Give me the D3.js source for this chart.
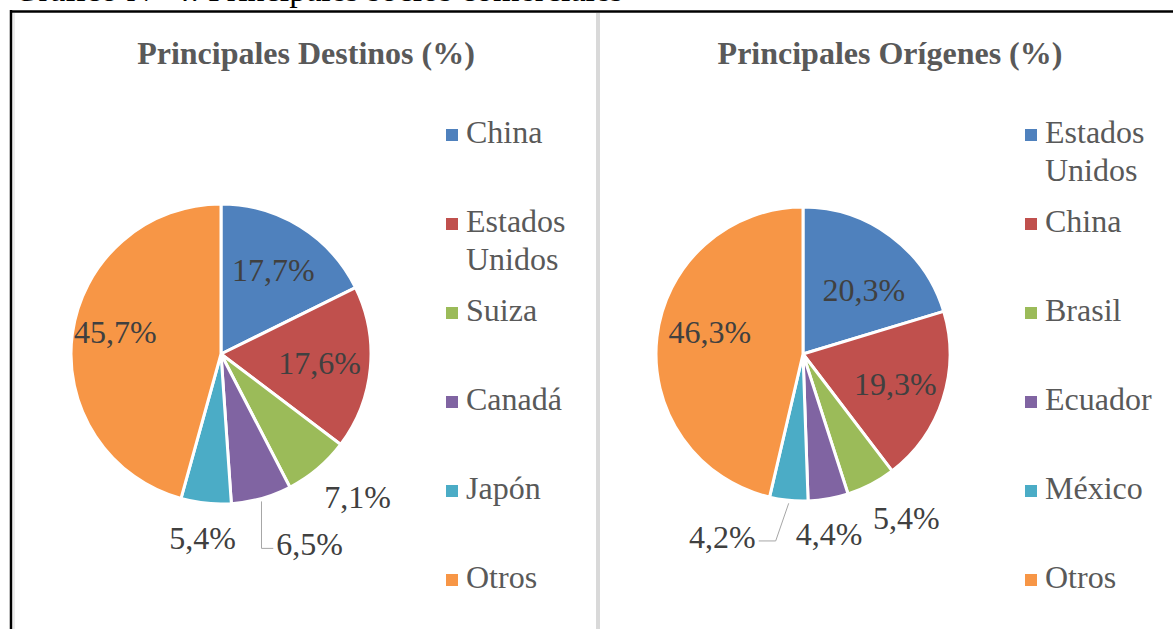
<!DOCTYPE html>
<html>
<head>
<meta charset="utf-8">
<script src="https://cdn.jsdelivr.net/npm/d3@7"></script>
<style>
  body { margin: 0; background: #fff; }
  text { font-family: "Liberation Serif", "Times New Roman", serif; }
</style>
</head>
<body>
<div id="chart"></div>
<script>
// data
var destinos = ["China", "Estados Unidos", "Suiza", "Canadá", "Japón", "Otros"];
var destinosValues = [17.7, 17.6, 7.1, 6.5, 5.4, 45.7];

var origenes = ["Estados Unidos", "China", "Brasil", "Ecuador", "México", "Otros"];
var origenesValues = [20.3, 19.3, 5.4, 4.4, 4.2, 46.3];

var sliceColors = ["#4f81bd", "#c0504d", "#9bbb59", "#8064a2", "#4bacc6", "#f79646"];

var svgWidth = 1173;
var svgHeight = 629;

var svg = d3.select("#chart")
    .append("svg")
    .attr("width", svgWidth)
    .attr("height", svgHeight);

// caption above the frame, cut off by the page edge
svg.append("text")
    .attr("x", 14)
    .attr("y", 1)
    .attr("font-size", 34)
    .attr("fill", "#000")
    .text("Gráfico N° 4: Principales socios comerciales");

// frame
svg.append("rect")
    .attr("x", 0).attr("y", 12).attr("width", svgWidth).attr("height", svgHeight)
    .attr("fill", "#fff");
svg.append("line")
    .attr("x1", 10).attr("x2", svgWidth).attr("y1", 11.5).attr("y2", 11.5)
    .attr("stroke", "#000").attr("stroke-width", 2.5);
svg.append("line")
    .attr("x1", 11).attr("x2", 11).attr("y1", 10).attr("y2", svgHeight)
    .attr("stroke", "#000").attr("stroke-width", 2.5);
svg.append("line")
    .attr("x1", 14).attr("x2", 14).attr("y1", 13).attr("y2", svgHeight)
    .attr("stroke", "#d9d9d9").attr("stroke-width", 1);
// divider between the two charts
svg.append("rect")
    .attr("x", 596).attr("y", 13).attr("width", 4).attr("height", svgHeight)
    .attr("fill", "#d9d9d9");

function drawPie(opts) {
    var g = svg.append("g");

    g.append("text")
        .attr("x", opts.titleX)
        .attr("y", 64)
        .attr("text-anchor", "middle")
        .attr("font-size", 32)
        .attr("font-weight", "bold")
        .attr("fill", "#595959")
        .text(opts.title);

    var color = d3.scaleOrdinal().domain(opts.names).range(sliceColors);
    var pie = d3.pie().sort(null).value(function(d, i) { return opts.values[i]; });
    var arcs = pie(opts.names);
    var r = opts.r;

    var arc = d3.arc().innerRadius(0).outerRadius(r);

    var pieG = g.append("g")
        .attr("transform", `translate(${opts.cx}, ${opts.cy})`);

    pieG.selectAll("path")
        .data(arcs)
        .enter()
        .append("path")
        .attr("d", arc)
        .attr("fill", function(d) { return color(d.data); })
        .attr("stroke", "#fff")
        .attr("stroke-width", 3)
        .attr("stroke-linejoin", "round");

    // labels: big slices inside, small ones outside
    arcs.forEach(function(d, i) {
        var mid = (d.startAngle + d.endAngle) / 2;
        var tweak = opts.tweaks[d.data] || {};
        var k = tweak.k || (d.value > 10 ? 0.66 : 1.28);
        var a = mid + (tweak.shift || 0) * Math.PI / 180;
        var lx = Math.sin(a) * r * k;
        var ly = -Math.cos(a) * r * k;

        var label = pieG.append("text")
            .attr("x", lx)
            .attr("y", ly + 11)
            .attr("text-anchor", "middle")
            .attr("font-size", 32)
            .attr("fill", "#404040")
            .text(d3.format(".1f")(d.value).replace(".", ",") + "%");

        if (tweak.leader !== undefined) {
            var ex = Math.sin(mid) * r;
            var ey = -Math.cos(mid) * r;
            var w = label.node().getComputedTextLength();
            var side = lx > ex ? 1 : -1;
            var endX = lx - side * (w / 2 + 3);
            var elbowX = ex + tweak.leader;
            var yy = ly + 4;
            pieG.append("path")
                .attr("d", `M${ex},${ey + 3}L${elbowX},${yy}L${endX},${yy}`)
                .attr("fill", "none")
                .attr("stroke", "#a6a6a6")
                .attr("stroke-width", 1);
        }
    });

    // legend
    var legendY = d3.scalePoint().domain(opts.names).range([143, 588]);
    var legend = g.selectAll(".legend")
        .data(opts.names)
        .enter()
        .append("g")
        .attr("transform", function(d) { return `translate(${opts.legendX}, ${legendY(d)})`; });

    legend.append("rect")
        .attr("x", 0)
        .attr("y", -14)
        .attr("width", 12)
        .attr("height", 12)
        .attr("fill", function(d) { return color(d); });

    legend.each(function(d) {
        var t = d3.select(this).append("text")
            .attr("font-size", 32)
            .attr("fill", "#595959");
        d.split(" ").forEach(function(word, j) {
            t.append("tspan")
                .attr("x", 20)
                .attr("y", j * 38)
                .text(word);
        });
    });
}

drawPie({
    title: "Principales Destinos (%)",
    titleX: 306,
    names: destinos,
    values: destinosValues,
    cx: 221, cy: 354, r: 150,
    legendX: 446,
    tweaks: {
        "Otros": { k: 0.72, shift: 4 },
        "Suiza": { k: 1.32, shift: -3.5 },
        "Canadá": { k: 1.4, shift: -9.3, leader: 0 },
        "Japón": { k: 1.23 }
    }
});

drawPie({
    title: "Principales Orígenes (%)",
    titleX: 890,
    names: origenes,
    values: origenesValues,
    cx: 803, cy: 354, r: 147,
    legendX: 1025,
    tweaks: {
        "Estados Unidos": { k: 0.6, shift: 7 },
        "Otros": { k: 0.65, shift: 6.5 },
        "Brasil": { k: 1.32, shift: -4.6 },
        "Ecuador": { k: 1.24, shift: 1.7 },
        "México": { k: 1.36, shift: 18.2, leader: -13 }
    }
});
</script>
</body>
</html>
